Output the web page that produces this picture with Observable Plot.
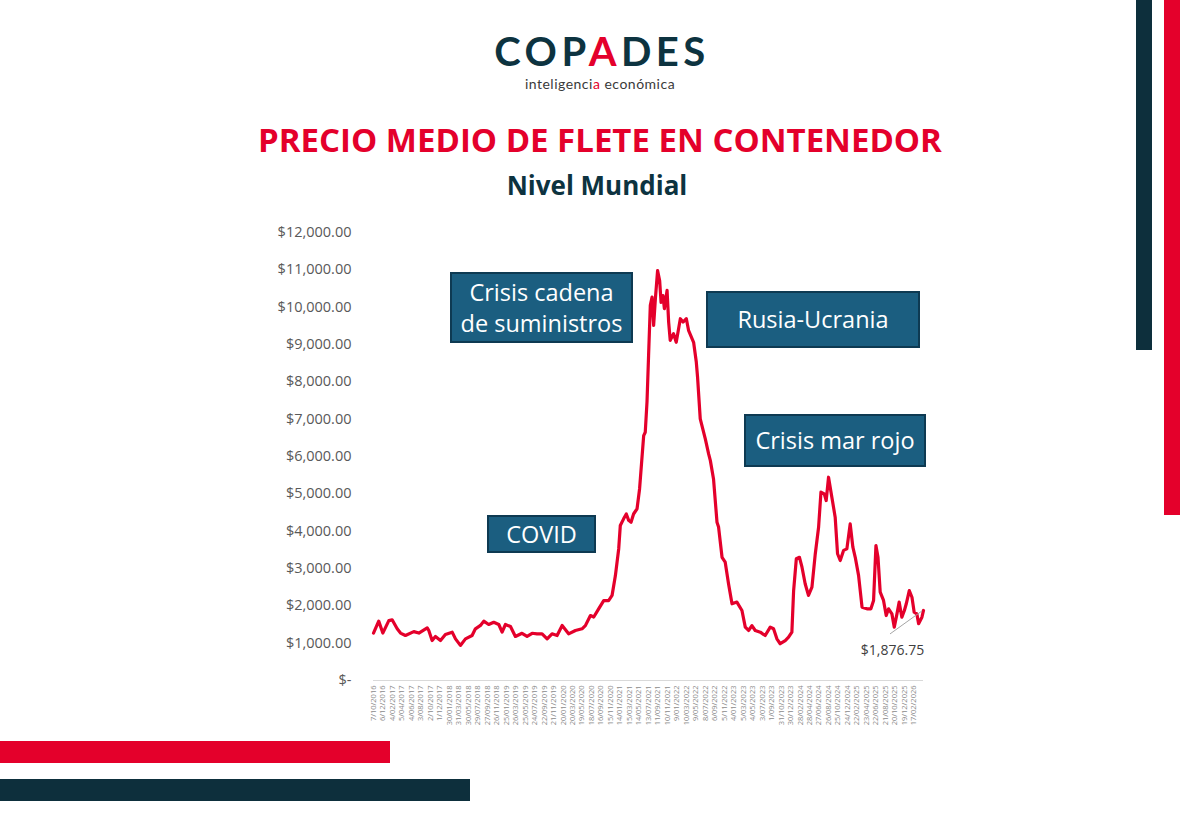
<!DOCTYPE html>
<html>
<head>
<meta charset="utf-8">
<script src="https://cdn.jsdelivr.net/npm/d3@7"></script>
<script src="https://cdn.jsdelivr.net/npm/@observablehq/plot@0.6"></script>
<style>
  html, body { margin: 0; padding: 0; background: #ffffff; }
  #page { position: relative; width: 1200px; height: 825px; overflow: hidden; background: #fff; font-family: "Open Sans", sans-serif; }
  .bar { position: absolute; }
  #logo { position: absolute; left: 0; width: 1200px; top: 27px; height: 48px; text-align: center; color: #0d3340; font-family: Lato, sans-serif; font-weight: 700; font-size: 40px; letter-spacing: 4.5px; line-height: 48px; padding-left: 4px; box-sizing: border-box; }
  #tagline { position: absolute; left: 0; width: 1200px; top: 75.5px; height: 17px; text-align: center; color: #3a3a3a; font-family: Lato, sans-serif; font-size: 14px; line-height: 16.8px; letter-spacing: 0.5px; }
  .red { color: #e4002b; }
  #title { position: absolute; left: 0; width: 1200px; top: 118px; text-align: center; color: #e4002b; font-family: "Open Sans", sans-serif; font-weight: 700; font-size: 33px; line-height: 44px; }
  #subtitle { position: absolute; left: 0; width: 1200px; top: 167px; text-align: center; color: #0d3340; font-family: "Open Sans", sans-serif; font-weight: 700; font-size: 26px; line-height: 36px; padding-right: 6px; box-sizing: border-box; }
  #chart { position: absolute; left: 0; top: 210px; }
  .note { position: absolute; background: #1b5e80; border: 2px solid #0e3a52; color: #ffffff; font-family: "Open Sans", sans-serif; font-size: 23.5px; line-height: 31px; display: flex; align-items: center; justify-content: center; text-align: center; box-sizing: border-box; }
</style>
</head>
<body>
<div id="page">
  <div class="bar" style="left:1136px; top:0; width:16px; height:350px; background:#0d2f3c;"></div>
  <div class="bar" style="left:1164px; top:0; width:16px; height:515px; background:#e4002b;"></div>
  <div class="bar" style="left:0; top:741px; width:390px; height:22px; background:#e4002b;"></div>
  <div class="bar" style="left:0; top:779px; width:470px; height:22px; background:#0d2f3c;"></div>

  <div id="logo"><span>COP</span><span class="red">A</span><span>DES</span></div>
  <div id="tagline"><span>inteligenci</span><span class="red">a</span><span>&nbsp;económica</span></div>
  <div id="title">PRECIO MEDIO DE FLETE EN CONTENEDOR</div>
  <div id="subtitle">Nivel Mundial</div>

  <div id="chart"></div>

  <div class="note" style="left:450px; top:272px; width:183px; height:71px;">Crisis cadena<br>de suministros</div>
  <div class="note" style="left:706px; top:291px; width:214px; height:57px;">Rusia-Ucrania</div>
  <div class="note" style="left:744px; top:414px; width:182px; height:53px;">Crisis mar rojo</div>
  <div class="note" style="left:487px; top:515px; width:109px; height:38px;">COVID</div>
</div>
<script>
// ---- data ----
const dates = [
  "2016-10-07","2016-11-09","2016-12-05","2017-01-12","2017-02-02","2017-03-06","2017-03-27","2017-04-27",
  "2017-06-19","2017-07-21","2017-09-12","2017-09-22","2017-10-13","2017-11-03","2017-12-05","2018-01-05",
  "2018-02-17","2018-03-10","2018-04-10","2018-05-12","2018-06-23","2018-07-14","2018-08-15","2018-09-05",
  "2018-10-06","2018-11-07","2018-12-09","2018-12-30","2019-01-20","2019-02-21","2019-03-24","2019-05-05",
  "2019-06-06","2019-07-08","2019-08-08","2019-09-09","2019-10-11","2019-11-11","2019-12-13","2020-01-14",
  "2020-02-24","2020-04-07","2020-05-19","2020-06-09","2020-07-11","2020-08-01","2020-09-01","2020-10-03",
  "2020-11-03","2020-11-25","2020-12-16","2021-01-06","2021-01-16","2021-02-06","2021-02-23","2021-03-10",
  "2021-03-25","2021-04-10","2021-05-02","2021-05-18","2021-06-13","2021-06-23","2021-07-04","2021-07-14",
  "2021-07-25","2021-08-05","2021-08-15","2021-08-26","2021-09-09","2021-09-22","2021-10-01","2021-10-13",
  "2021-10-22","2021-11-08","2021-11-18","2021-11-28","2021-12-19","2022-01-05","2022-01-31","2022-02-17",
  "2022-03-10","2022-03-24","2022-04-25","2022-05-12","2022-05-20","2022-06-06","2022-07-08","2022-07-29",
  "2022-08-09","2022-08-29","2022-09-20","2022-09-30","2022-10-22","2022-11-11","2022-12-02","2022-12-24",
  "2023-01-24","2023-02-25","2023-03-18","2023-04-08","2023-04-29","2023-05-20","2023-06-21","2023-07-22",
  "2023-08-23","2023-09-13","2023-10-04","2023-10-25","2023-11-26","2023-12-17","2024-01-07","2024-01-18",
  "2024-02-04","2024-02-24","2024-03-11","2024-03-31","2024-04-21","2024-05-13","2024-06-03","2024-06-24",
  "2024-07-09","2024-07-30","2024-08-11","2024-08-26","2024-09-16","2024-10-07","2024-10-22","2024-11-08",
  "2024-11-29","2024-12-20","2025-01-10","2025-01-27","2025-02-11","2025-03-04","2025-03-26","2025-04-26",
  "2025-05-21","2025-06-07","2025-06-22","2025-07-05","2025-07-19","2025-08-09","2025-08-26","2025-09-10",
  "2025-10-01","2025-10-16","2025-11-02","2025-11-16","2025-12-03","2025-12-19","2025-12-31","2026-01-19",
  "2026-02-05","2026-02-19","2026-03-08","2026-03-19","2026-04-09","2026-04-19"
];
const prices = [
  1270,1590,1270,1605,1625,1385,1270,1205,
  1310,1270,1410,1340,1070,1180,1070,1230,
  1295,1115,940,1115,1205,1385,1475,1590,
  1500,1560,1500,1295,1500,1445,1180,1265,
  1180,1265,1250,1250,1115,1250,1205,1475,
  1250,1340,1385,1470,1740,1700,1920,2140,
  2140,2280,2810,3530,4150,4330,4460,4290,
  4240,4460,4600,5130,6560,6650,7460,8700,
  10050,10270,9510,10220,10980,10715,10130,10310,
  9960,10450,9600,9110,9290,9060,9690,9600,
  9690,9380,9060,8530,8125,7010,6470,6070,
  5890,5400,4240,4110,3300,3170,2590,2055,
  2100,1875,1430,1340,1470,1340,1295,1205,
  1430,1385,1115,985,1070,1160,1295,2410,
  3260,3300,3035,2590,2280,2500,3390,4105,
  5045,5000,4820,5445,4910,4375,3395,3215,
  3485,3525,4195,3570,3300,2815,1965,1920,
  1920,2145,3615,3300,2365,2145,1740,1920,
  1785,1430,1785,2100,1695,1875,2055,2410,
  2230,1830,1785,1520,1695,1876.75
];
const xTickLabels = [
  "7/10/2016","6/12/2016","4/02/2017","5/04/2017","4/06/2017","3/08/2017","2/10/2017","1/12/2017",
  "30/01/2018","31/03/2018","30/05/2018","29/07/2018","27/09/2018","26/11/2018","25/01/2019","26/03/2019",
  "25/05/2019","24/07/2019","22/09/2019","21/11/2019","20/01/2020","20/03/2020","19/05/2020","18/07/2020",
  "16/09/2020","15/11/2020","14/01/2021","15/03/2021","14/05/2021","13/07/2021","11/09/2021","10/11/2021",
  "9/01/2022","10/03/2022","9/05/2022","8/07/2022","6/09/2022","5/11/2022","4/01/2023","5/03/2023",
  "4/05/2023","3/07/2023","1/09/2023","31/10/2023","30/12/2023","28/02/2024","28/04/2024","27/06/2024",
  "26/08/2024","25/10/2024","24/12/2024","22/02/2025","23/04/2025","22/06/2025","21/08/2025","20/10/2025",
  "19/12/2025","17/02/2026"
];
const yTicks = [0,1000,2000,3000,4000,5000,6000,7000,8000,9000,10000,11000,12000];
const lastLabel = "$1,876.75";

// ---- build ----
const parseISO = d3.utcParse("%Y-%m-%d");
const parseDMY = d3.utcParse("%d/%m/%Y");
const fmtDMY = d => `${d.getUTCDate()}/${String(d.getUTCMonth()+1).padStart(2,"0")}/${d.getUTCFullYear()}`;
const series = dates.map((d, i) => ({date: parseISO(d), price: prices[i]}));
const xTicks = xTickLabels.map(s => parseDMY(s));
const last = series[series.length - 1];
const money = d3.format(",.2f");

const leader = (index, {x, y}) => {
  const px = x(last.date), py = y(last.price);
  const ns = "http://www.w3.org/2000/svg";
  const line = document.createElementNS(ns, "line");
  line.setAttribute("x1", px - 1);
  line.setAttribute("y1", py + 1);
  line.setAttribute("x2", px - 33);
  line.setAttribute("y2", py + 24);
  line.setAttribute("stroke", "#a6a6a6");
  line.setAttribute("stroke-width", "1");
  return line;
};

const chart = Plot.plot({
  width: 1200,
  height: 540,
  marginLeft: 373,
  marginRight: 277,
  marginTop: 22,
  marginBottom: 70,
  style: {fontFamily: "Open Sans, sans-serif", background: "transparent", overflow: "visible"},
  x: {type: "utc", domain: [series[0].date, last.date]},
  y: {domain: [0, 12000]},
  marks: [
    Plot.ruleY([0], {stroke: "#d9d9d9", strokeWidth: 1}),
    Plot.axisY({ticks: yTicks, tickSize: 0, tickPadding: 22, fontSize: 14.5, fill: "#595959", label: null,
      tickFormat: v => v === 0 ? "$-" : "$" + money(v)}),
    Plot.axisX({ticks: xTicks, tickSize: 0, tickPadding: 5, tickRotate: -90, fontSize: 7.5, fill: "#8c8c8c", label: null,
      tickFormat: fmtDMY}),
    Plot.line(series, {x: "date", y: "price", stroke: "#e4002b", strokeWidth: 3.2, strokeLinejoin: "round", strokeLinecap: "round"}),
    leader,
    Plot.text([last], {x: "date", y: "price", text: () => lastLabel, dx: -31, dy: 40, fontSize: 14, fill: "#404040"})
  ]
});
document.getElementById("chart").appendChild(chart);
</script>
</body>
</html>
